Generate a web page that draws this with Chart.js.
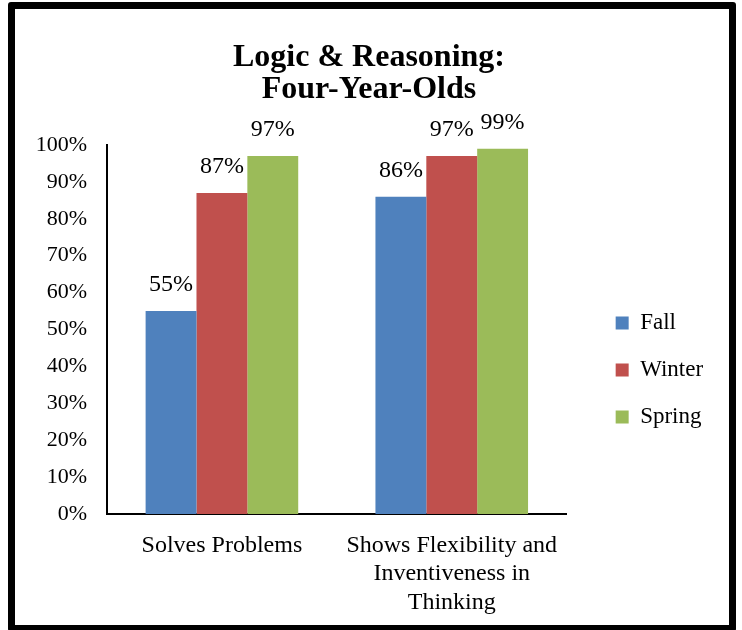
<!DOCTYPE html>
<html>
<head>
<meta charset="utf-8">
<script src="https://cdn.jsdelivr.net/npm/chart.js@4/dist/chart.umd.min.js"></script>
<style>
  html, body { margin: 0; padding: 0; background: #fff; }
  #wrap { position: relative; width: 742px; height: 630px; overflow: hidden; }
  #c { position: absolute; left: 0; top: 0; }
  #frame {
    position: absolute; left: 8px; top: 2px; width: 728px; height: 630px;
    box-sizing: border-box; border: 7px solid #000; border-radius: 3px;
    pointer-events: none;
  }
</style>
</head>
<body>
<div id="wrap">
  <canvas id="c" width="742" height="630"></canvas>
  <div id="frame"></div>
</div>
<script>
// Skill areas along the x axis
const categories = [
  'Solves Problems',
  ['Shows Flexibility and', 'Inventiveness in', 'Thinking']
];

// Percent of four-year-olds meeting expectations, by assessment period
const fallValues   = [55, 86];
const winterValues = [87, 97];
const springValues = [97, 99];

const seriesNames = ['Fall', 'Winter', 'Spring'];
const yTickLabels = ['0%', '10%', '20%', '30%', '40%', '50%', '60%', '70%', '80%', '90%', '100%'];

const serif = "'Times New Roman', 'Liberation Serif', serif";

// Writes each bar's value above it
const valueLabels = {
  id: 'valueLabels',
  afterDatasetsDraw(chart) {
    const ctx = chart.ctx;
    ctx.save();
    ctx.font = '24px ' + serif;
    ctx.fillStyle = '#000';
    ctx.textAlign = 'center';
    ctx.textBaseline = 'alphabetic';
    chart.data.datasets.forEach((ds, di) => {
      chart.getDatasetMeta(di).data.forEach((bar, i) => {
        ctx.fillText(ds.data[i] + '%', bar.x, bar.y - 20);
      });
    });
    ctx.restore();
  }
};

new Chart(document.getElementById('c'), {
  type: 'bar',
  data: {
    labels: categories,
    datasets: [
      { label: seriesNames[0], data: fallValues,   backgroundColor: '#4F81BD' },
      { label: seriesNames[1], data: winterValues, backgroundColor: '#C0504D' },
      { label: seriesNames[2], data: springValues, backgroundColor: '#9BBB59' }
    ]
  },
  options: {
    responsive: false,
    animation: false,
    events: [],
    // bottom padding is negative so the legend column centres beside the bars
    layout: { padding: { left: 35, right: 39, top: 0, bottom: -110 } },
    datasets: { bar: { categoryPercentage: 0.664, barPercentage: 1.0 } },
    scales: {
      x: {
        grid: { display: false, drawTicks: false },
        border: { display: true, color: '#000', width: 2 },
        ticks: {
          color: '#000', font: { family: serif, size: 24 }, padding: 17,
          maxRotation: 0, autoSkip: false
        },
        afterFit(scale) { scale.height = 226; }
      },
      y: {
        min: 0, max: 100,
        grid: { display: false, drawTicks: false },
        border: { display: true, color: '#000', width: 2 },
        ticks: {
          stepSize: 10, color: '#000', font: { family: serif, size: 22 }, padding: 20,
          callback: (v, i) => yTickLabels[i]
        },
        afterFit(scale) { scale.width = 72; }
      },
      // empty gutter between the plot and the legend
      gutter: {
        type: 'linear', position: 'right', display: true,
        grid: { display: false }, border: { display: false }, ticks: { display: false },
        afterFit(scale) { scale.width = 25; }
      }
    },
    plugins: {
      title: {
        display: true,
        text: ['Logic & Reasoning:', 'Four-Year-Olds'],
        color: '#000',
        font: { family: serif, size: 32, weight: 'bold', lineHeight: 1.0 },
        padding: { top: 42, bottom: 39 }
      },
      legend: {
        position: 'right',
        labels: {
          color: '#000',
          font: { family: serif, size: 23 },
          boxWidth: 13, boxHeight: 13, padding: 24
        }
      },
      tooltip: { enabled: false }
    }
  },
  plugins: [valueLabels]
});
</script>
</body>
</html>
